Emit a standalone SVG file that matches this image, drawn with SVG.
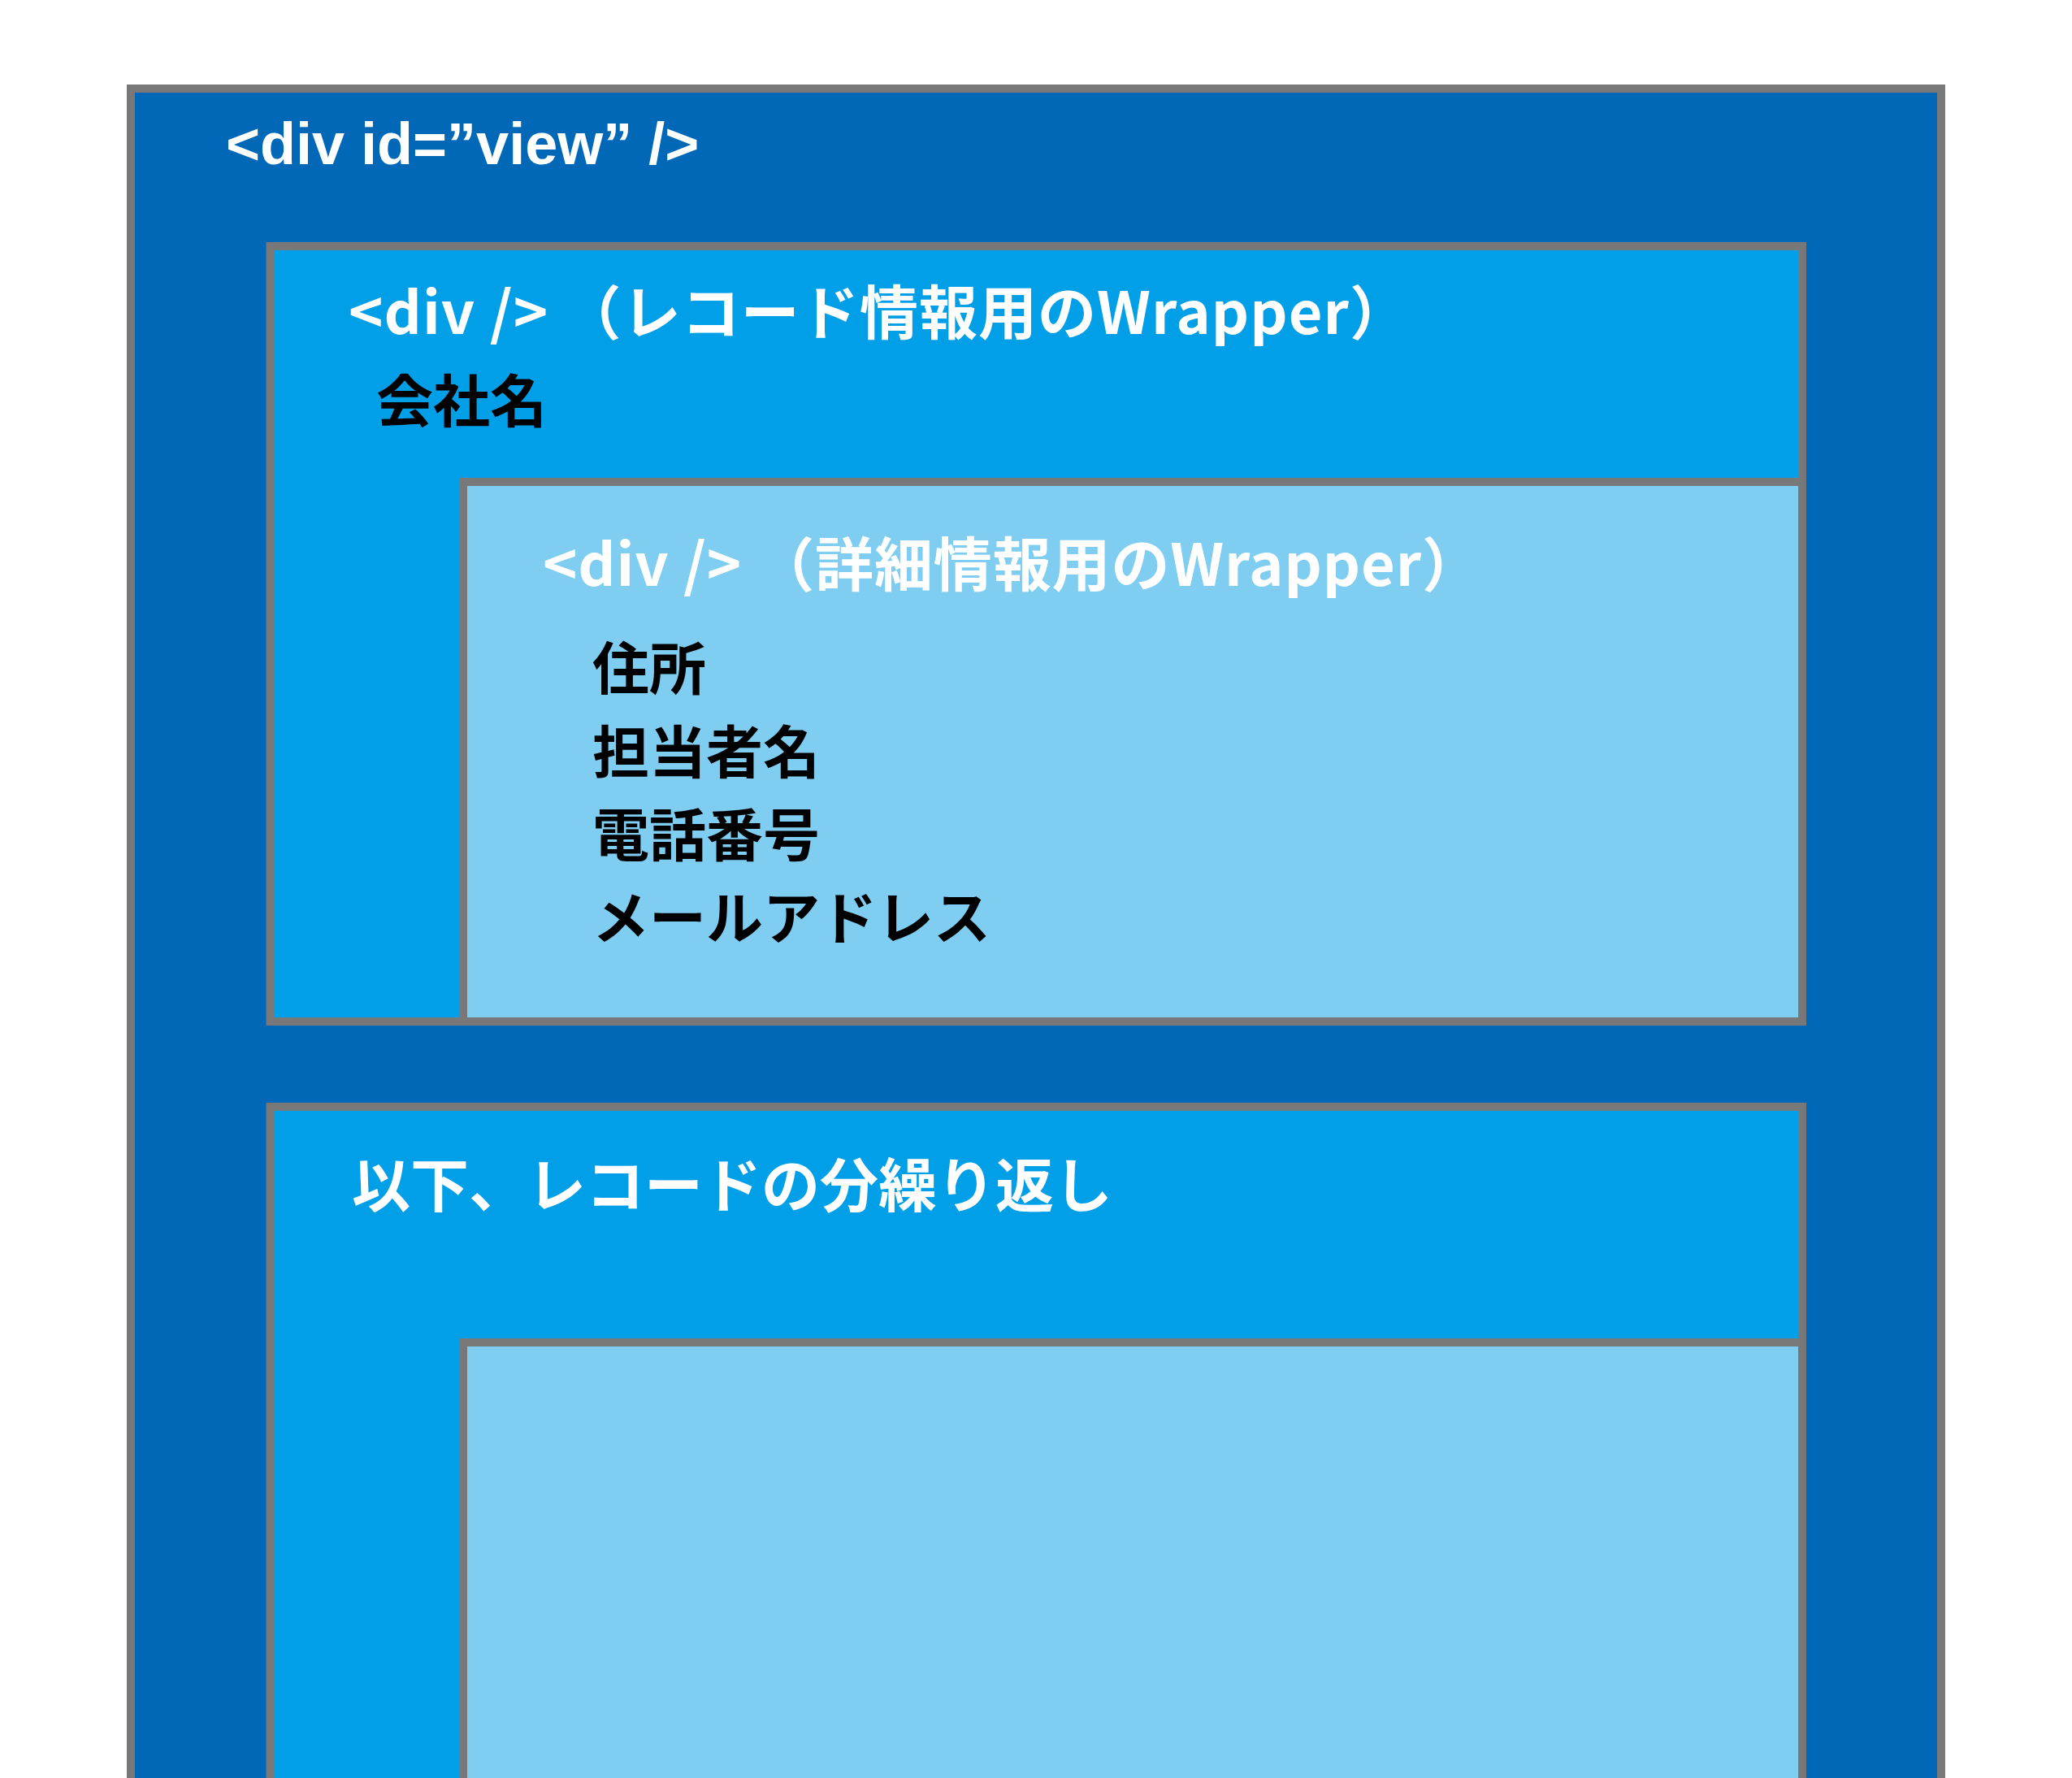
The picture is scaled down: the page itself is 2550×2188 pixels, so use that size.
<svg xmlns="http://www.w3.org/2000/svg" width="2550" height="2188" viewBox="0 0 2550 2188">
<style>
.box{stroke:#787878;stroke-width:10}
.view{fill:#0068B7}
.rec{fill:#009FE8}
.det{fill:#80CDF2}
.code{font-family:"Liberation Sans",Arial,sans-serif;font-weight:bold;font-size:72px;fill:#FFFFFF}
.head{font-family:"Noto Sans CJK JP",sans-serif;font-weight:bold;font-size:72px;fill:#FFFFFF}
.field{font-family:"Noto Sans CJK JP",sans-serif;font-weight:bold;font-size:70px;fill:#000000}
</style>
<rect width="2550" height="2188" fill="#FFFFFF"/>
<g id="view">
<rect class="box view" x="161" y="109" width="2228" height="2200"/>
<text class="code" x="278" y="202">&lt;div id=”view” /&gt;</text>
</g>
<g id="record1">
<rect class="box rec" x="332.5" y="303" width="1885.5" height="954"/>
<text class="head" x="429" y="411" textLength="1304" lengthAdjust="spacing">&lt;div /&gt; （レコード情報用のWrapper）</text>
<text class="field" x="463" y="520">会社名</text>
</g>
<g id="details1">
<rect class="box det" x="570" y="593" width="1648" height="664"/>
<text class="head" x="668" y="721" textLength="1154" lengthAdjust="spacing">&lt;div /&gt; （詳細情報用のWrapper）</text>
<text class="field" x="729" y="849">住所</text>
<text class="field" x="729" y="952">担当者名</text>
<text class="field" x="729" y="1054">電話番号</text>
<text class="field" x="729" y="1156">メールアドレス</text>
</g>
<g id="record2">
<rect class="box rec" x="332.5" y="1362" width="1885.5" height="900"/>
<text class="head" x="433" y="1485">以下、レコードの分繰り返し</text>
</g>
<g id="details2">
<rect class="box det" x="570" y="1652" width="1648" height="700"/>
</g>
<g id="connectors"/>
</svg>
